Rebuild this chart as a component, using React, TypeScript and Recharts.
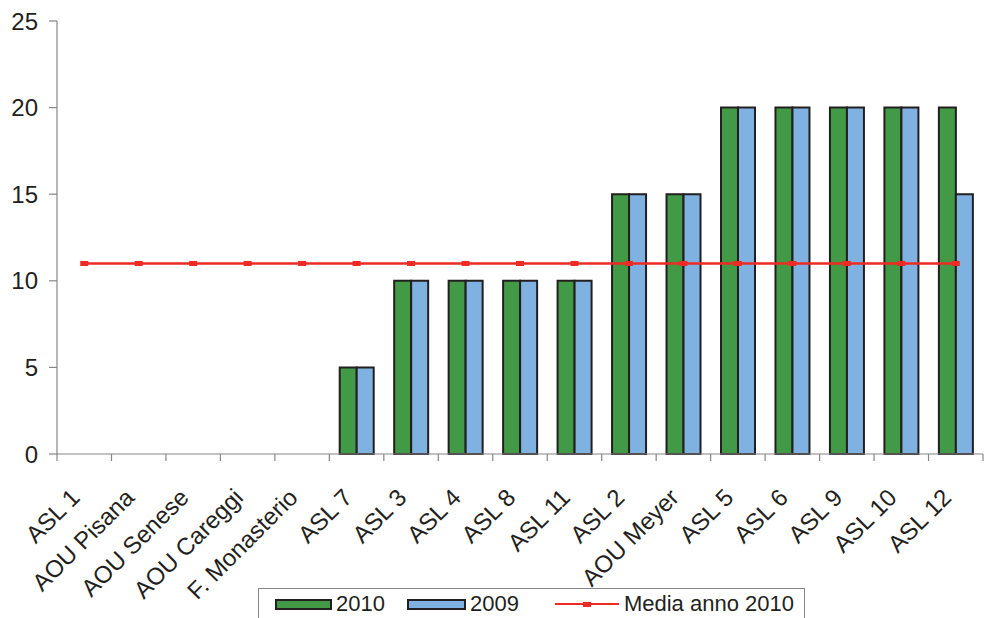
import { Bar, ComposedChart, Line, XAxis, YAxis } from 'recharts';

const categories = [
  'ASL 1', 'AOU Pisana', 'AOU Senese', 'AOU Careggi', 'F. Monasterio', 'ASL 7', 'ASL 3', 'ASL 4',
  'ASL 8', 'ASL 11', 'ASL 2', 'AOU Meyer', 'ASL 5', 'ASL 6', 'ASL 9', 'ASL 10', 'ASL 12'
];
const values2010 = [0, 0, 0, 0, 0, 5, 10, 10, 10, 10, 15, 15, 20, 20, 20, 20, 20];
const values2009 = [0, 0, 0, 0, 0, 5, 10, 10, 10, 10, 15, 15, 20, 20, 20, 20, 15];
const media2010 = [11, 11, 11, 11, 11, 11, 11, 11, 11, 11, 11, 11, 11, 11, 11, 11, 11];
const yTicks = [0, 5, 10, 15, 20, 25];

const data = categories.map((name, i) => ({
  name,
  y2010: values2010[i],
  y2009: values2009[i],
  media: media2010[i]
}));

const GREEN = '#439a46';
const BLUE = '#7fb2e0';
const RED = '#ee2a24';
const DARK = '#231f20';
const AXIS = '#868686';
const FONT = '"Liberation Sans", Arial, sans-serif';

const PLOT_LEFT = 57;
const PLOT_RIGHT = 983;
const HALF = (PLOT_RIGHT - PLOT_LEFT) / categories.length / 2;

function CategoryTick(props: any) {
  const { x, y, payload, index } = props;
  return (
    <g transform={`translate(${x},${y})`}>
      <line x1={-HALF} y1={0} x2={-HALF} y2={7} stroke={AXIS} strokeWidth={1.2} />
      {index === categories.length - 1 && (
        <line x1={HALF} y1={0} x2={HALF} y2={7} stroke={AXIS} strokeWidth={1.2} />
      )}
      <text
        x={0}
        y={0}
        transform="translate(-3,45) rotate(-45)"
        textAnchor="end"
        fontSize={24}
        fill={DARK}
        fontFamily={FONT}
      >
        {payload.value}
      </text>
    </g>
  );
}

function MediaDot(props: any) {
  const { cx, cy } = props;
  if (cx == null || cy == null) return null;
  return <rect x={cx - 4} y={cy - 2.5} width={8} height={5} fill={RED} />;
}

function Legend() {
  return (
    <div
      style={{
        position: 'absolute',
        left: 258,
        top: 588,
        width: 547,
        height: 32,
        border: `1px solid ${AXIS}`,
        boxSizing: 'border-box',
        background: '#fff',
        fontFamily: FONT,
        fontSize: 22,
        color: DARK,
        display: 'flex',
        alignItems: 'center'
      }}
    >
      <span style={{ marginLeft: 16, width: 57, height: 11, background: GREEN, border: `2px solid ${DARK}`, boxSizing: 'border-box' }} />
      <span style={{ marginLeft: 4 }}>2010</span>
      <span style={{ marginLeft: 22, width: 59, height: 11, background: BLUE, border: `2px solid ${DARK}`, boxSizing: 'border-box' }} />
      <span style={{ marginLeft: 4 }}>2009</span>
      <span style={{ marginLeft: 36, width: 64, height: 5, position: 'relative' }}>
        <span style={{ position: 'absolute', left: 0, top: 1, width: 64, height: 2, background: RED }} />
        <span style={{ position: 'absolute', left: 28, top: 0, width: 8, height: 5, background: RED }} />
      </span>
      <span style={{ marginLeft: 5 }}>Media anno 2010</span>
    </div>
  );
}

export default function App() {
  return (
    <div style={{ position: 'absolute', left: 0, top: 0, width: 984, height: 618, background: '#fff', overflow: 'hidden' }}>
      <ComposedChart
        width={984}
        height={618}
        data={data}
        margin={{ top: 21, right: 1, left: 0, bottom: 0 }}
        barCategoryGap="19%"
        barGap={0}
      >
        <XAxis
          dataKey="name"
          height={164}
          interval={0}
          tickLine={false}
          tickSize={0}
          tickMargin={0}
          axisLine={{ stroke: AXIS, strokeWidth: 1.2 }}
          tick={<CategoryTick />}
        />
        <YAxis
          width={PLOT_LEFT}
          domain={[0, 25]}
          ticks={yTicks}
          interval={0}
          tickSize={8}
          tickLine={{ stroke: AXIS, strokeWidth: 1.2 }}
          axisLine={{ stroke: AXIS, strokeWidth: 1.2 }}
          tick={{ fontSize: 24, fill: DARK, fontFamily: FONT }}
          tickMargin={11}
        />
        <Bar dataKey="y2010" fill={GREEN} stroke={DARK} strokeWidth={2} isAnimationActive={false} />
        <Bar dataKey="y2009" fill={BLUE} stroke={DARK} strokeWidth={2} isAnimationActive={false} />
        <Line
          dataKey="media"
          stroke={RED}
          strokeWidth={2.5}
          dot={<MediaDot />}
          activeDot={false}
          isAnimationActive={false}
        />
      </ComposedChart>
      <Legend />
    </div>
  );
}
